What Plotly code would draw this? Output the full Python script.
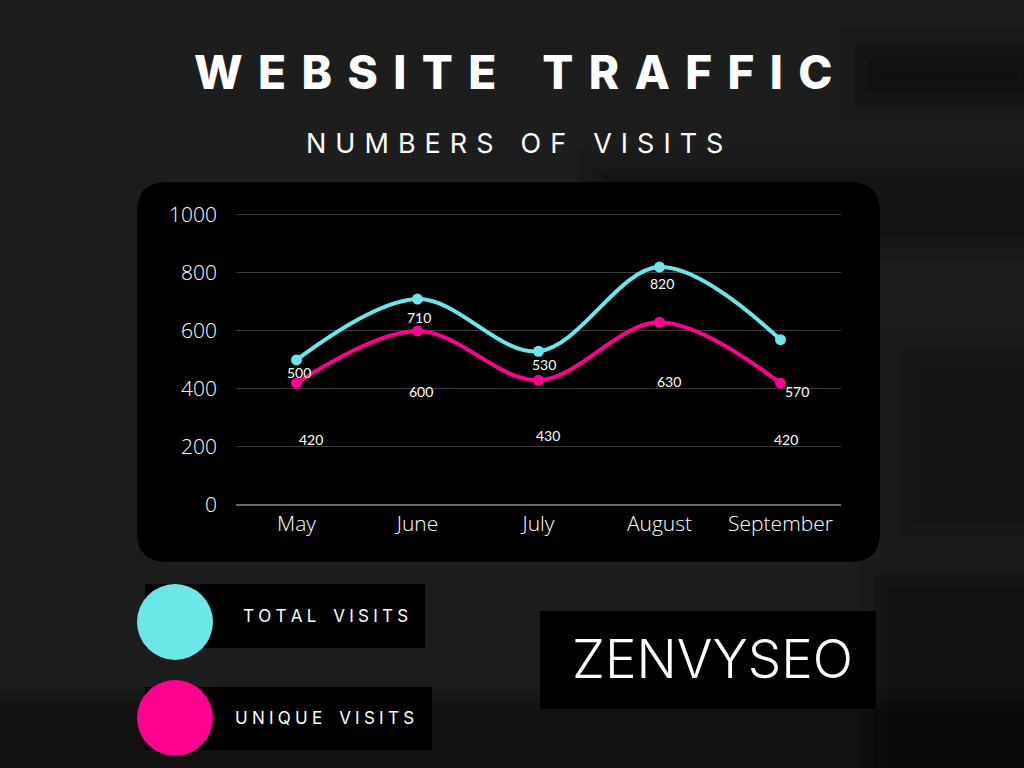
import plotly.graph_objects as go

# data
months = ["May", "June", "July", "August", "September"]
total_visits = [500, 710, 530, 820, 570]
unique_visits = [420, 600, 430, 630, 420]
y_ticks = [0, 200, 400, 600, 800, 1000]

# label nudges in px (xshift, yshift) - the labels in the original sit oddly
total_label_shift = [(2, -13), (1, -18), (5, -13), (2, -16), (16, -52)]
unique_label_shift = [(14, -56), (3, -61), (9, -55), (9, -59), (5, -56)]

CYAN = "#6ce6e8"
PINK = "#ff0090"

W, H = 1024, 768
L, R, T, B = 236, 183, 212, 263
pw, ph = W - L - R, H - T - B


def px(x):
    return (x - L) / pw


def py(y):
    return (H - B - y) / ph


def rounded_box(x0, y0, x1, y1, r):
    rx, ry = r / pw, r / ph
    a, b, c, d = px(x0), px(x1), py(y0), py(y1)
    return (f"M {a + rx},{c} L {b - rx},{c} Q {b},{c} {b},{c - ry} "
            f"L {b},{d + ry} Q {b},{d} {b - rx},{d} L {a + rx},{d} "
            f"Q {a},{d} {a},{d + ry} L {a},{c - ry} Q {a},{c} {a + rx},{c} Z")


def box(x0, y0, x1, y1, color="black", opacity=1):
    return dict(type="rect", xref="paper", yref="paper", layer="below",
                x0=px(x0), x1=px(x1), y0=py(y1), y1=py(y0),
                fillcolor=color, opacity=opacity, line_width=0)


def soft_patch(x0, y0, x1, y1, steps=4, inset=14, opacity=0.12):
    # stacked translucent boxes to fake the blurred backdrop
    return [box(x0 + i * inset, y0 + i * inset, x1 - i * inset, y1 - i * inset, "black", opacity)
            for i in range(steps)]


def circle(cx, cy, rx, ry, color):
    return dict(type="circle", xref="paper", yref="paper", layer="above",
                x0=px(cx - rx), x1=px(cx + rx), y0=py(cy + ry), y1=py(cy - ry),
                fillcolor=color, line_width=0)


def text(x, y, s, size, family, weight=400, color="white", xanchor="center"):
    return dict(xref="paper", yref="paper", x=px(x), y=py(y), text=s,
                showarrow=False, xanchor=xanchor, yanchor="middle",
                font=dict(size=size, family=family, weight=weight, color=color))


def spaced(s, gap="\u2004", word="\u2003"):
    return word.join(gap.join(w) for w in s.split(" "))


fig = go.Figure()
fig.add_trace(go.Scatter(x=months, y=total_visits, name="Total Visits",
                         mode="lines+markers", line=dict(color=CYAN, width=4, shape="spline"),
                         marker=dict(size=11, color=CYAN)))
fig.add_trace(go.Scatter(x=months, y=unique_visits, name="Unique Visits",
                         mode="lines+markers", line=dict(color=PINK, width=4, shape="spline"),
                         marker=dict(size=11, color=PINK)))

annotations = []
for vals, shifts in [(total_visits, total_label_shift), (unique_visits, unique_label_shift)]:
    for m, v, (dx, dy) in zip(months, vals, shifts):
        annotations.append(dict(x=m, y=v, text=str(v), showarrow=False,
                                xshift=dx, yshift=dy, xanchor="center", yanchor="middle",
                                font=dict(size=14, family="Lato", color="white")))

annotations += [
    text(513, 72, spaced("WEBSITE TRAFFIC", "\u2004", "\u2003"), 46, "Inter", 800),
    text(514, 143, spaced("NUMBERS OF VISITS", "\u2004", "\u2003"), 27, "Inter", 400),
    text(325, 616, spaced("TOTAL VISITS", "\u2005", "\u2003"), 17, "Inter", 400),
    text(324, 718, spaced("UNIQUE VISITS", "\u2005", "\u2003"), 17, "Inter", 400),
    text(712, 659, "ZENVYSEO", 53, "Inter", 300),
]

shapes = (
    soft_patch(840, 30, 1060, 120)
    + soft_patch(580, 150, 1060, 260, 3, 12, 0.1)
    + soft_patch(880, 330, 1060, 560, 3, 18, 0.08)
    + soft_patch(-40, 690, 1064, 800, 3, 10, 0.15)
    + soft_patch(860, 560, 1060, 800, 3, 14, 0.12)
    + [
        dict(type="path", xref="paper", yref="paper", layer="below",
             path=rounded_box(137, 182, 880, 562, 30), fillcolor="black", line_width=0),
        box(145, 584, 425, 648),
        box(145, 687, 432, 750),
        box(540, 611, 876, 709),
        circle(175, 622, 38, 38, CYAN),
        circle(175, 718, 38, 38, PINK),
    ]
)

fig.update_layout(
    width=W, height=H,
    margin=dict(l=L, r=R, t=T, b=B),
    paper_bgcolor="#1d1d1d",
    plot_bgcolor="rgba(0,0,0,0)",
    showlegend=False,
    annotations=annotations,
    shapes=shapes,
)
fig.update_xaxes(range=[-0.5, 4.5], showgrid=False, zeroline=False, showline=False,
                 ticks="", ticklabelstandoff=4,
                 tickfont=dict(family="Open Sans", weight=300, size=21, color="white"))
fig.update_yaxes(range=[0, 1010], tickvals=y_ticks, showgrid=True, gridcolor="#3c3c3c",
                 gridwidth=1, zeroline=True, zerolinecolor="#6a6a6a", zerolinewidth=2,
                 showline=False, ticks="", ticklabelstandoff=18,
                 tickfont=dict(family="Open Sans", weight=300, size=21, color="white"))

fig.write_html("out.html", config={"displayModeBar": False},
               post_script="document.body.style.margin='0';")
